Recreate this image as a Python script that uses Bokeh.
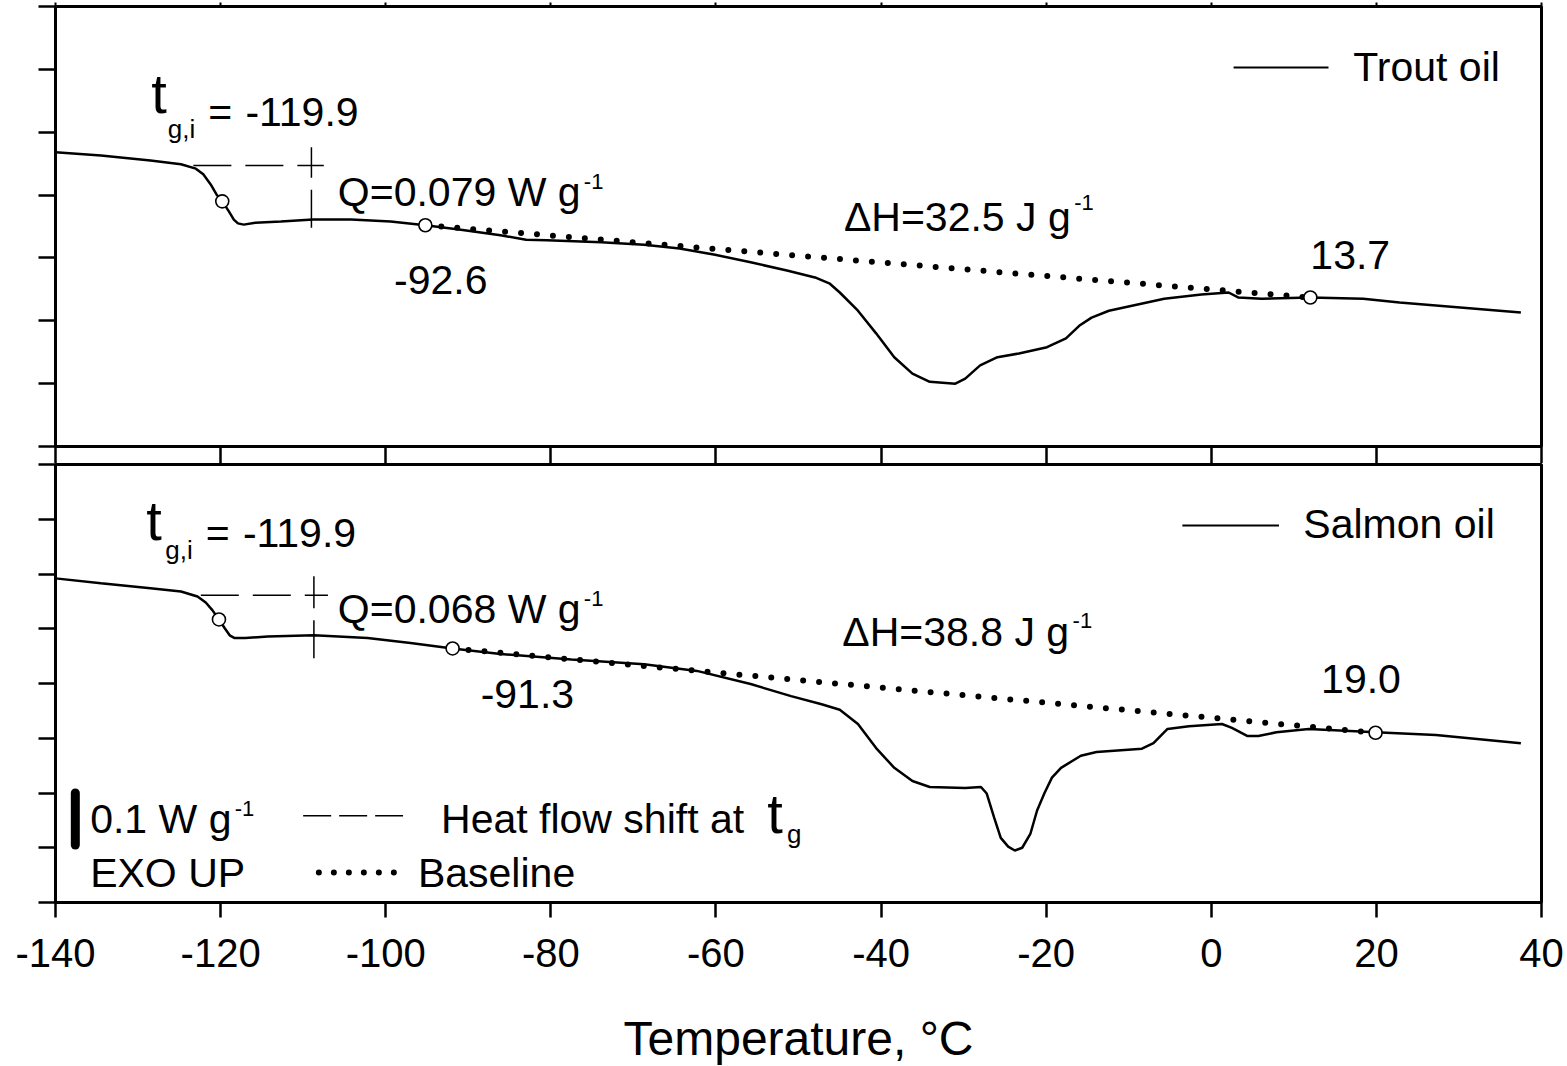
from bokeh.plotting import figure
from bokeh.layouts import column
from bokeh.models import FixedTicker, Range1d, LinearAxis
from bokeh.embed import file_html
from bokeh.resources import INLINE
from bokeh.core.properties import value

FONT = "Liberation Sans"

# ---------------- data ----------------
x_ticks = [-140, -120, -100, -80, -60, -40, -20, 0, 20, 40]
x_tick_labels = ["-140", "-120", "-100", "-80", "-60", "-40", "-20", "0", "20", "40"]
trout_y_ticks = [0.0, 0.1, 0.2, 0.3, 0.4, 0.5, 0.6, 0.7]
salmon_y_ticks = [0.0, 0.1, 0.2, 0.3, 0.4, 0.5, 0.6, 0.7, 0.8]

trout_temp = [-140.0, -134.5, -128.5, -124.8, -123.0, -122.1, -121.2, -120.5, -119.8, -119.0,
              -118.4, -117.9, -117.2, -115.8, -112.7, -108.8, -104.2, -99.4, -95.2, -90.9,
              -86.1, -83.0, -80.5, -73.9, -68.7, -64.4, -60.1, -55.8, -51.4, -48.0,
              -46.2, -45.0, -42.8, -40.6, -38.4, -36.2, -34.1, -31.0, -29.8, -28.0,
              -25.9, -23.3, -19.9, -17.6, -16.0, -14.5, -12.4, -5.7, -1.2, 2.1,
              3.3, 6.1, 12.0, 18.4, 22.8, 37.5]
trout_flow = [0.468, 0.463, 0.455, 0.449, 0.442, 0.433, 0.417, 0.401, 0.390, 0.374,
              0.361, 0.355, 0.353, 0.356, 0.358, 0.361, 0.361, 0.358, 0.352, 0.345,
              0.336, 0.329, 0.328, 0.325, 0.321, 0.315, 0.305, 0.293, 0.280, 0.269,
              0.259, 0.245, 0.216, 0.180, 0.142, 0.116, 0.103, 0.100, 0.108, 0.129,
              0.142, 0.148, 0.158, 0.172, 0.192, 0.205, 0.216, 0.235, 0.242, 0.245,
              0.237, 0.235, 0.237, 0.235, 0.229, 0.213]

salmon_temp = [-140.0, -134.5, -128.5, -124.8, -122.8, -121.8, -121.0, -120.2, -119.5, -118.9,
               -118.3, -117.0, -114.3, -108.7, -102.2, -97.0, -91.9, -86.1, -77.5, -68.7,
               -62.3, -55.8, -50.9, -47.2, -45.0, -42.8, -40.6, -38.4, -36.2, -34.1,
               -29.8, -27.9, -27.2, -26.3, -25.5, -24.6, -23.8, -22.9, -21.9, -21.1,
               -20.2, -19.3, -18.2, -15.8, -13.9, -8.4, -7.0, -5.3, -2.7, 1.3,
               2.5, 4.4, 5.7, 7.9, 11.8, 19.9, 27.2, 37.5]
salmon_flow = [0.592, 0.583, 0.574, 0.568, 0.559, 0.548, 0.534, 0.517, 0.501, 0.488,
               0.483, 0.483, 0.486, 0.488, 0.483, 0.474, 0.464, 0.454, 0.444, 0.435,
               0.423, 0.399, 0.377, 0.362, 0.352, 0.326, 0.282, 0.246, 0.222, 0.211,
               0.209, 0.211, 0.199, 0.155, 0.118, 0.102, 0.095, 0.100, 0.126, 0.168,
               0.200, 0.228, 0.246, 0.268, 0.275, 0.281, 0.291, 0.317, 0.322, 0.326,
               0.319, 0.304, 0.304, 0.311, 0.317, 0.311, 0.306, 0.291]

# marked points: tg midpoint, melting onset, melting end
trout_pts_temp = [-119.8, -95.2, 12.0]
trout_pts_flow = [0.390, 0.352, 0.237]
salmon_pts_temp = [-120.2, -91.9, 19.9]
salmon_pts_flow = [0.517, 0.464, 0.310]

# heat-flow-shift construction at tg (horizontal + vertical dashed)
trout_shift_h_temp = [-123.3, -107.5]
trout_shift_h_flow = [0.447, 0.447]
trout_shift_v_temp = [-109.0, -109.0]
trout_shift_v_flow = [0.348, 0.476]
salmon_shift_h_temp = [-122.4, -107.0]
salmon_shift_h_flow = [0.561, 0.561]
salmon_shift_v_temp = [-108.7, -108.7]
salmon_shift_v_flow = [0.446, 0.596]

TOP_PPU = 440 / 0.7      # pixels per W/g unit, top panel
BOT_PPU = 438 / 0.8      # bottom panel


def blank_axis(ax, tick_out, ticks):
    ax.ticker = FixedTicker(ticks=ticks)
    ax.major_tick_out = tick_out
    ax.major_tick_in = 0
    ax.major_label_overrides = {t: "" for t in ticks}
    ax.major_label_text_font_size = "1px"
    ax.major_label_standoff = 0
    ax.minor_tick_line_color = None


def make_panel(ymax, yticks, frame_h, top, bottom):
    p = figure(x_range=Range1d(-140, 40), y_range=Range1d(0, ymax),
               frame_width=1486, frame_height=frame_h,
               min_border_left=55, min_border_right=26, min_border_top=top,
               min_border_bottom=bottom,
               output_backend="svg", toolbar_location=None)
    p.xgrid.visible = False
    p.ygrid.visible = False
    p.outline_line_color = "black"
    p.outline_line_width = 3
    p.outline_line_alpha = 1
    p.background_fill_color = "white"
    p.border_fill_color = "white"
    for ax in (p.xaxis[0], p.yaxis[0]):
        ax.axis_line_width = 3
        ax.axis_line_color = "black"
        ax.major_tick_line_width = 2.5
        ax.major_tick_line_color = "black"
        ax.major_tick_in = 0
        ax.minor_tick_line_color = None
    blank_axis(p.yaxis[0], 17, yticks)
    p.xaxis.ticker = FixedTicker(ticks=x_ticks)
    return p


def texts(p, xs, ys, ss, size, ppu):
    # ys are the intended alphabetic baselines; compensate renderer baseline offset
    adj = 0.34 * size / ppu
    p.text(x=xs, y=[y + adj for y in ys], text=ss, text_font=value(FONT),
           text_font_size=f"{size}px", text_baseline="alphabetic", text_align="left",
           text_color="black")


def draw_common(p, temp, flow, pts_t, pts_q, sh_t, sh_q, sv_t, sv_q):
    p.line(temp, flow, line_color="black", line_width=2.5)
    p.line([pts_t[1], pts_t[2]], [pts_q[1], pts_q[2]], line_color="black", line_width=6,
           line_dash="0 16", line_cap="round")
    p.line(sh_t, sh_q, line_color="black", line_width=1.5, line_dash="38 14")
    p.line(sv_t, sv_q, line_color="black", line_width=1.5, line_dash="38 12")
    p.scatter(pts_t, pts_q, marker="circle", size=13, fill_color="white",
              line_color="black", line_width=1.6)


# ---------------- top panel: trout oil ----------------
p1 = make_panel(0.7, trout_y_ticks, 440, 6, 0)
blank_axis(p1.xaxis[0], 17, x_ticks)
top_ax = LinearAxis(axis_line_color=None, major_tick_line_color="black", major_tick_line_width=2)
blank_axis(top_ax, 4, x_ticks)
p1.add_layout(top_ax, "above")
draw_common(p1, trout_temp, trout_flow, trout_pts_temp, trout_pts_flow,
            trout_shift_h_temp, trout_shift_h_flow, trout_shift_v_temp, trout_shift_v_flow)
p1.line([2.7, 14.2], [0.603, 0.603], line_color="black", line_width=2)
texts(p1, [-128.4], [0.531], ["t"], 56, TOP_PPU)
texts(p1, [-126.4], [0.4916], ["g,i"], 26, TOP_PPU)
texts(p1, [-121.5, -117.0, -105.8, -99.0, -44.5, 12.0, 17.2],
      [0.5107, 0.5107, 0.3834, 0.2434, 0.3436, 0.2832, 0.5822],
      ["=", "-119.9", "Q=0.079 W g", "-92.6", "\u0394H=32.5 J g", "13.7", "Trout oil"], 41, TOP_PPU)
texts(p1, [-76.0, -16.6], [0.4104, 0.376], ["-1", "-1"], 22, TOP_PPU)

# ---------------- bottom panel: salmon oil ----------------
p2 = make_panel(0.8, salmon_y_ticks, 438, 1, 0)
p2.xaxis.major_tick_out = 15
p2.xaxis.major_label_standoff = 21
p2.xaxis.major_label_overrides = dict(zip(x_ticks, x_tick_labels))
p2.xaxis.major_label_text_font = FONT
p2.xaxis.major_label_text_font_size = "40px"
p2.xaxis.major_label_text_color = "black"
p2.xaxis.axis_label = "Temperature, \u00b0C"
p2.xaxis.axis_label_text_font = FONT
p2.xaxis.axis_label_text_font_size = "48px"
p2.xaxis.axis_label_text_font_style = "normal"
p2.xaxis.axis_label_text_color = "black"
p2.xaxis.axis_label_standoff = 42
draw_common(p2, salmon_temp, salmon_flow, salmon_pts_temp, salmon_pts_flow,
            salmon_shift_h_temp, salmon_shift_h_flow, salmon_shift_v_temp, salmon_shift_v_flow)
p2.line([-3.5, 8.2], [0.6885, 0.6885], line_color="black", line_width=2)
texts(p2, [-129.0, -53.8], [0.663, 0.1275], ["t", "t"], 56, BOT_PPU)
texts(p2, [-126.7, -51.4], [0.628, 0.109], ["g,i", "g"], 26, BOT_PPU)
texts(p2, [-121.8, -117.3, -105.8, -88.5, -44.7, 13.3, 11.15, -135.8, -135.8, -93.3, -96.1],
      [0.650, 0.650, 0.510, 0.355, 0.468, 0.3825, 0.665, 0.1275, 0.0291, 0.1275, 0.0291],
      ["=", "-119.9", "Q=0.068 W g", "-91.3", "\u0394H=38.8 J g", "19.0", "Salmon oil",
       "0.1 W g", "EXO UP", "Heat flow shift at", "Baseline"], 41, BOT_PPU)
texts(p2, [-76.0, -16.8, -118.3], [0.541, 0.502, 0.1585], ["-1", "-1", "-1"], 22, BOT_PPU)
# scale bar (0.1 W g-1) and legend keys
p2.line([-137.6, -137.6], [0.105, 0.200], line_color="black", line_width=9, line_cap="round")
p2.line([-110.0, -97.9], [0.1585, 0.1585], line_color="black", line_width=1.5, line_dash="28 8")
p2.line([-108.1, -98.8], [0.0546, 0.0546], line_color="black", line_width=6,
        line_dash="0 15", line_cap="round")

layout = column(p1, p2, spacing=0)
open("out.html", "w").write(file_html(layout, INLINE))
